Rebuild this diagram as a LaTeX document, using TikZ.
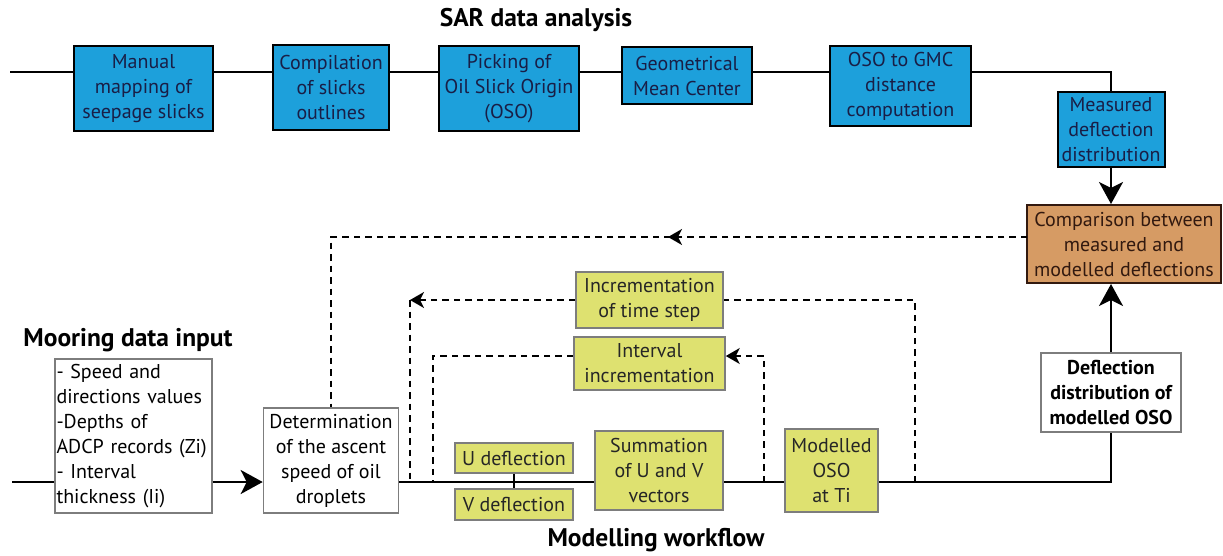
\documentclass[tikz,border=0pt]{standalone}
\usepackage{fontspec}
\setmainfont{PT Sans}
\usetikzlibrary{arrows.meta}
\definecolor{sarblue}{RGB}{29,160,219}
\definecolor{modyel}{RGB}{222,225,112}
\definecolor{cmporange}{RGB}{214,155,100}
\definecolor{navytext}{RGB}{25,30,70}
\definecolor{browntext}{RGB}{50,25,15}
\definecolor{boxgray}{RGB}{125,125,125}
\tikzset{
  basebox/.style={inner sep=0pt, align=center, font=\fontsize{20}{25}\selectfont},
  bluebox/.style={basebox, draw=black, line width=2pt, fill=sarblue, text=navytext},
  yelbox/.style={basebox, draw=boxgray, line width=1.6pt, fill=modyel, text=black!85},
  whitebox/.style={basebox, draw=boxgray, line width=1.6pt, fill=white, text=black},
  orbox/.style={basebox, draw=browntext, line width=2pt, fill=cmporange, text=browntext},
  title/.style={font=\fontsize{25.5}{28}\selectfont\bfseries, inner sep=0pt},
  conn/.style={line width=2.6pt, line cap=butt},
  dsh/.style={line width=1.8pt, dash pattern=on 6.5pt off 5pt},
  bigtip/.style={-{Stealth[length=22pt,width=24pt,inset=6pt]}},
  smalltip/.style={-{Stealth[length=14pt,width=16pt,inset=4pt]}},
}
\begin{document}
\begin{tikzpicture}[x=1pt,y=-1pt]
\useasboundingbox (0,0) rectangle (1223,555);

% titles
\node[title] (tsar) at (536,20) {SAR data analysis};
\node[title] (tmoor) at (128,340) {Mooring data input};
\node[title] (tmod) at (656,540) {Modelling workflow};

% SAR boxes
\node[bluebox, minimum width=139pt, minimum height=85pt] (man) at (143.5,88.5) {Manual\\mapping of\\seepage slicks};
\node[bluebox, minimum width=116pt, minimum height=85pt] (comp) at (331,87.5) {Compilation\\of slicks\\outlines};
\node[bluebox, minimum width=140pt, minimum height=85pt] (pick) at (509,88.5) {Picking of\\Oil Slick Origin\\(OSO)};
\node[bluebox, minimum width=130pt, minimum height=57pt] (geo) at (687,75.5) {Geometrical\\Mean Center};
\node[bluebox, minimum width=141pt, minimum height=80pt] (oso) at (900.5,86) {OSO to GMC\\distance\\computation};
\node[bluebox, minimum width=107pt, minimum height=75pt] (meas) at (1111,129.5) {Measured\\deflection\\distribution};

% comparison & deflection
\node[orbox, minimum width=194pt, minimum height=78pt] (cmp) at (1124,244) {Comparison between\\measured and\\modelled deflections};
\node[whitebox, minimum width=140pt, minimum height=79pt, font=\fontsize{20}{25}\selectfont\bfseries] (defl) at (1111,392.5) {Deflection\\distribution of\\modelled OSO};

% mooring & modelling boxes
\node[whitebox, minimum width=157pt, minimum height=154pt, text width=154pt, inner xsep=1.5pt, align=left] (moor) at (133.5,436) {- Speed and\\directions values\\-Depths of\\ADCP records (Zi)\\- Interval\\thickness (Ii)};
\node[whitebox, minimum width=135pt, minimum height=105pt] (det) at (331,460.5) {Determination\\of the ascent\\speed of oil\\droplets};
\node[yelbox, minimum width=118pt, minimum height=30pt] (uu) at (514,458) {U deflection};
\node[yelbox, minimum width=118pt, minimum height=31pt] (vv) at (514,504.5) {V deflection};
\node[yelbox, minimum width=128pt, minimum height=79pt] (sum) at (659,470.5) {Summation\\of U and V\\vectors};
\node[yelbox, minimum width=93pt, minimum height=83pt] (mod) at (831.5,470.5) {Modelled\\OSO\\at Ti};
\node[yelbox, minimum width=147pt, minimum height=56pt] (ts) at (649.5,300) {Incrementation\\of time step};
\node[yelbox, minimum width=151pt, minimum height=53pt] (iv) at (649.5,363.5) {Interval\\incrementation};

% coordinates
\coordinate (topstart) at (10,72);
\coordinate (mainstart) at (12,482);
\coordinate (mainy) at (0,482);
\coordinate (fb) at (1027,237);
\coordinate (fbmid) at (668,237);
\coordinate (fbcorner) at (331,237);
\coordinate (tsR) at (915,482);
\coordinate (tsL) at (410,300);
\coordinate (ivR) at (764,482);
\coordinate (ivy) at (0,356);
\coordinate (ivL) at (433,356);

% top line
\draw[conn] (topstart) -- (topstart -| man.west);
\draw[conn] (man.east |- topstart) -- (comp.west |- topstart);
\draw[conn] (comp.east |- topstart) -- (pick.west |- topstart);
\draw[conn] (pick.east |- topstart) -- (geo.west |- topstart);
\draw[conn] (geo.east |- topstart) -- (oso.west |- topstart);
\draw[conn] (oso.east |- topstart) -| (meas.north);
\draw[conn, bigtip] (meas.south) -- (meas.south |- cmp.north);

% main line
\draw[conn] (mainstart) -- (mainstart -| moor.west);
\draw[conn, bigtip] (moor.east |- mainy) -- (det.west |- mainy);
\draw[conn] (det.east |- mainy) -- (sum.west |- mainy);
\draw[conn] (uu.south) -- (vv.north);
\draw[conn] (sum.east |- mainy) -- (mod.west |- mainy);
\draw[conn] (mod.east |- mainy) -| (defl.south);
\draw[conn, bigtip] (defl.north) -- (defl.north |- cmp.south);

% feedback loops
\draw[dsh] (fb) -- (fbcorner) -- (det.north);
\draw[dsh, smalltip] (fb) -- (fbmid);
\draw[dsh] (tsR) |- (ts.east);
\draw[dsh, smalltip] (ts.west) -- (tsL);
\draw[dsh] (tsL) -- (tsL |- mainy);
\draw[dsh, smalltip] (ivR) |- (iv.east |- ivy);
\draw[dsh] (iv.west |- ivy) -- (ivL) -- (ivL |- mainy);
\end{tikzpicture}
\end{document}
